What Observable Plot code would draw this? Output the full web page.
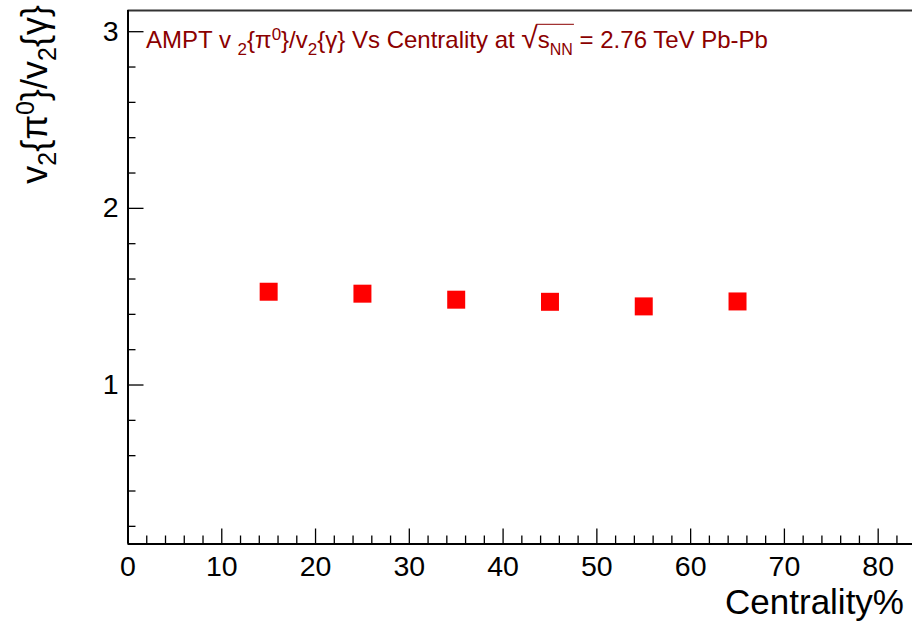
<!DOCTYPE html>
<html>
<head>
<meta charset="utf-8">
<script src="https://cdn.jsdelivr.net/npm/d3@7"></script>
<script src="https://cdn.jsdelivr.net/npm/@observablehq/plot@0.6"></script>
<style>
  html, body { margin: 0; padding: 0; background: #fff; }
  #chart svg { display: block; }
</style>
</head>
<body>
<div id="chart"></div>
<script>
// Data
const centrality = [15, 25, 35, 45, 55, 65];
const ratio = [1.528, 1.517, 1.483, 1.471, 1.445, 1.473];

const xMajor = [0, 10, 20, 30, 40, 50, 60, 70, 80];
const xMinor = d3.range(2, 84, 2).filter(d => d % 10 !== 0);
const yMajor = [1, 2, 3];
const yMinor = d3.range(2, 31, 2).map(d => d / 10).filter(d => Math.abs(d - Math.round(d)) > 1e-6);

const data = centrality.map((c, i) => ({c, r: ratio[i]}));

const FONT = "'Liberation Sans', Arial, Helvetica, sans-serif";
const X0 = 0, X1 = 83.66, Y0 = 0.1, Y1 = 3.12;

const plot = Plot.plot({
  width: 912,
  height: 625,
  marginLeft: 127.5,
  marginRight: 0,
  marginTop: 10,
  marginBottom: 81.5,
  style: {fontFamily: FONT, color: "#000", background: "#fff"},
  x: {domain: [X0, X1]},
  y: {domain: [Y0, Y1]},
  marks: [
    // frame lines
    Plot.ruleY([Y1], {stroke: "#333", strokeWidth: 2}),
    Plot.ruleY([Y0], {stroke: "#000", strokeWidth: 2}),
    Plot.ruleX([X0], {stroke: "#000", strokeWidth: 2}),
    // x ticks (inward)
    Plot.axisX({ticks: xMajor, tickSize: -15, text: null, label: null, strokeWidth: 1.3}),
    Plot.axisX({ticks: xMinor, tickSize: -8, text: null, label: null, strokeWidth: 1.3}),
    Plot.axisX({ticks: xMajor, tickSize: 0, tickPadding: 12, fontSize: 28.5, label: null, tickFormat: d => String(d)}),
    // y ticks (inward)
    Plot.axisY({ticks: yMajor, tickSize: -16, text: null, label: null, strokeWidth: 1.3}),
    Plot.axisY({ticks: yMinor, tickSize: -8, text: null, label: null, strokeWidth: 1.3}),
    Plot.axisY({ticks: yMajor, tickSize: 0, tickPadding: 9.5, fontSize: 28.5, label: null, tickFormat: d => String(d)}),
    // points
    Plot.dot(data, {x: "c", y: "r", symbol: "square", r: 10.15, fill: "#ff0000", stroke: "none"})
  ]
});

document.getElementById("chart").appendChild(plot);
const svg = d3.select(plot);

// Title inside the frame
const title = svg.append("text")
  .attr("x", 146).attr("y", 48.3)
  .attr("text-anchor", "start")
  .attr("font-family", FONT).attr("font-size", 24)
  .attr("fill", "#8b0000");
const parts = [
  ["AMPT v ", 0, null],
  ["2", 7, 17],
  ["{π", -7, null],
  ["0", -8, 17],
  ["}/v", 8, null],
  ["2", 7, 17],
  ["{γ} Vs Centrality at ", -7, null],
  ["√", 0, 30],
  ["s", 0, null],
  ["NN", 7, 16],
  [" = 2.76 TeV Pb-Pb", -7, null]
];
parts.forEach(([t, dy, fs]) => {
  const ts = title.append("tspan").attr("dy", dy).text(t);
  if (fs) ts.attr("font-size", fs);
});
// overline of the square root over s_NN
{
  const node = title.node();
  const full = parts.map(p => p[0]).join("");
  const iS = full.indexOf("√");
  const iN = full.indexOf("NN") + 1;
  const b = node.getEndPositionOfChar(iN).x + 1;
  const sq = node.getExtentOfChar(iS);
  svg.append("line")
    .attr("x1", sq.x + sq.width - 1.5).attr("x2", b)
    .attr("y1", sq.y + 3).attr("y2", sq.y + 3)
    .attr("stroke", "#8b0000").attr("stroke-width", 1);
}

// Y-axis title (rotated)
const yt = svg.append("text")
  .attr("transform", "translate(47,5) rotate(-90)")
  .attr("text-anchor", "end")
  .attr("font-family", FONT).attr("font-size", 36)
  .attr("fill", "#000");
[["v", 0, null], ["2", 9, 25], ["{π", -9, null], ["0", -13, 25], ["}/v", 13, null], ["2", 9, 25], ["{γ}", -9, null]]
  .forEach(([t, dy, fs]) => {
    const ts = yt.append("tspan").attr("dy", dy).text(t);
    if (fs) ts.attr("font-size", fs);
  });

// X-axis title
svg.append("text")
  .attr("x", 904).attr("y", 614)
  .attr("text-anchor", "end")
  .attr("font-family", FONT).attr("font-size", 35)
  .attr("fill", "#000")
  .text("Centrality%");
</script>
</body>
</html>
